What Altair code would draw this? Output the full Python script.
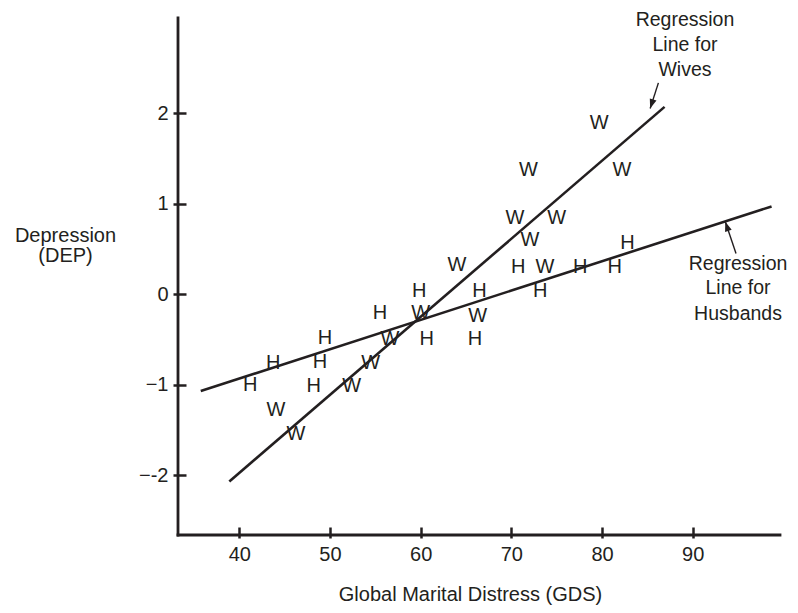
import altair as alt
import pandas as pd

# ---- data ----
h_x = [41.2, 43.75, 48.2, 48.9, 49.45, 55.5, 59.85, 60.66, 66.5, 66.0, 70.76, 73.2, 77.6, 81.4, 82.8]
h_y = [-1.0, -0.76, -1.02, -0.75, -0.48, -0.21, 0.04, -0.50, 0.03, -0.50, 0.30, 0.03, 0.30, 0.30, 0.57]
w_x = [44.05, 46.25, 52.4, 54.5, 56.6, 60.0, 64.0, 66.3, 73.7, 72.05, 70.4, 75.0, 71.9, 82.2, 79.7]
w_y = [-1.28, -1.54, -1.02, -0.76, -0.50, -0.21, 0.32, -0.24, 0.30, 0.60, 0.84, 0.84, 1.37, 1.37, 1.89]

line_group = ["Wives", "Wives", "Husbands", "Husbands"]
line_x = [38.9, 86.9, 35.75, 98.7]
line_y = [-2.07, 2.07, -1.07, 0.97]

label_text = ["Regression", "Line for", "Wives", "Regression", "Line for", "Husbands"]
label_x = [89.15, 89.15, 89.15, 95.0, 95.0, 95.0]
label_y = [3.03, 2.753, 2.477, 0.329, 0.069, -0.215]

arrow_x = [86.22, 94.78]
arrow_y = [2.335, 0.45]
arrow_x2 = [85.31, 93.60]
arrow_y2 = [2.052, 0.80]
arrow_angle = [198.4, 341.3]

x_ticks = [40, 50, 60, 70, 80, 90]
y_ticks = [-2, -1, 0, 1, 2]
x_domain = [33.24, 99.63]
y_domain = [-2.661, 3.052]

C = "#231f20"
F = "Liberation Sans"
W, H = 602, 517

pts = pd.DataFrame({
    "x": h_x + w_x,
    "y": h_y + w_y,
    "letter": ["H"] * len(h_x) + ["W"] * len(w_x),
})
lines = pd.DataFrame({"g": line_group, "x": line_x, "y": line_y})
labels = pd.DataFrame({"t": label_text, "x": label_x, "y": label_y})
arrows = pd.DataFrame({"x": arrow_x, "y": arrow_y, "x2": arrow_x2, "y2": arrow_y2, "a": arrow_angle})

xs = alt.Scale(domain=x_domain, nice=False, zero=False)
ys = alt.Scale(domain=y_domain, nice=False, zero=False)

x_axis = alt.Axis(
    values=x_ticks, domain=False, grid=False, tickSize=11, tickWidth=2.5, tickColor=C,
    offset=-8, labelFontSize=20, labelFont=F, labelColor=C, labelPadding=6,
    title="Global Marital Distress (GDS)", titleFontSize=20, titleFont=F,
    titleFontWeight="normal", titleColor=C, titleX=292, titleY=67,
    titleBaseline="middle", titleAlign="center",
)
y_axis = alt.Axis(
    values=y_ticks, domain=False, grid=False, tickSize=13, tickWidth=2.5, tickColor=C,
    offset=-8, labelFontSize=20, labelFont=F, labelColor=C, labelPadding=5,
    labelExpr="datum.value == -2 ? '\u2212-2' : (datum.value < 0 ? '\u2212' + abs(datum.value) : '' + datum.value)",
    title=["Depression", "(DEP)"], titleAngle=0, titleFontSize=20, titleFont=F,
    titleFontWeight="normal", titleColor=C, titleX=-121, titleY=217,
    titleAlign="center", titleBaseline="middle", titleLineHeight=20,
)

points = alt.Chart(pts).mark_text(font=F, fontSize=20, color=C).encode(
    x=alt.X("x:Q", scale=xs, axis=x_axis),
    y=alt.Y("y:Q", scale=ys, axis=y_axis),
    text="letter:N",
)

reg = alt.Chart(lines).mark_line(color=C, strokeWidth=2.6).encode(
    x=alt.X("x:Q", scale=xs),
    y=alt.Y("y:Q", scale=ys),
    detail="g:N",
)

ann = alt.Chart(labels).mark_text(font=F, fontSize=19.5, color=C, align="center").encode(
    x=alt.X("x:Q", scale=xs),
    y=alt.Y("y:Q", scale=ys),
    text="t:N",
)

arr = alt.Chart(arrows).mark_rule(color=C, strokeWidth=1.4).encode(
    x=alt.X("x:Q", scale=xs), y=alt.Y("y:Q", scale=ys),
    x2="x2:Q", y2="y2:Q",
)

heads = alt.Chart(arrows).mark_point(
    shape="M0,0L-0.7,1.9L0.7,1.9Z", filled=True, color=C, opacity=1, size=100, strokeWidth=0,
).encode(
    x=alt.X("x2:Q", scale=xs), y=alt.Y("y2:Q", scale=ys),
    angle=alt.Angle("a:Q", scale=None),
)

one = pd.DataFrame({"k": [0]})
yline = alt.Chart(one).mark_rule(color=C, strokeWidth=2.8, strokeCap="square").encode(
    x=alt.value(0), y=alt.value(0), y2=alt.value(H),
)
xline = alt.Chart(one).mark_rule(color=C, strokeWidth=2.8, strokeCap="square").encode(
    x=alt.value(0), x2=alt.value(W), y=alt.value(H),
)

chart = alt.layer(reg, points, ann, arr, heads, yline, xline).properties(
    width=W, height=H,
    autosize=alt.AutoSizeParams(type="none"),
    padding={"left": 170, "top": 10, "right": 10, "bottom": 70},
).configure_view(stroke=None)

chart.save("out.html", embed_options={"renderer": "svg", "actions": False})
